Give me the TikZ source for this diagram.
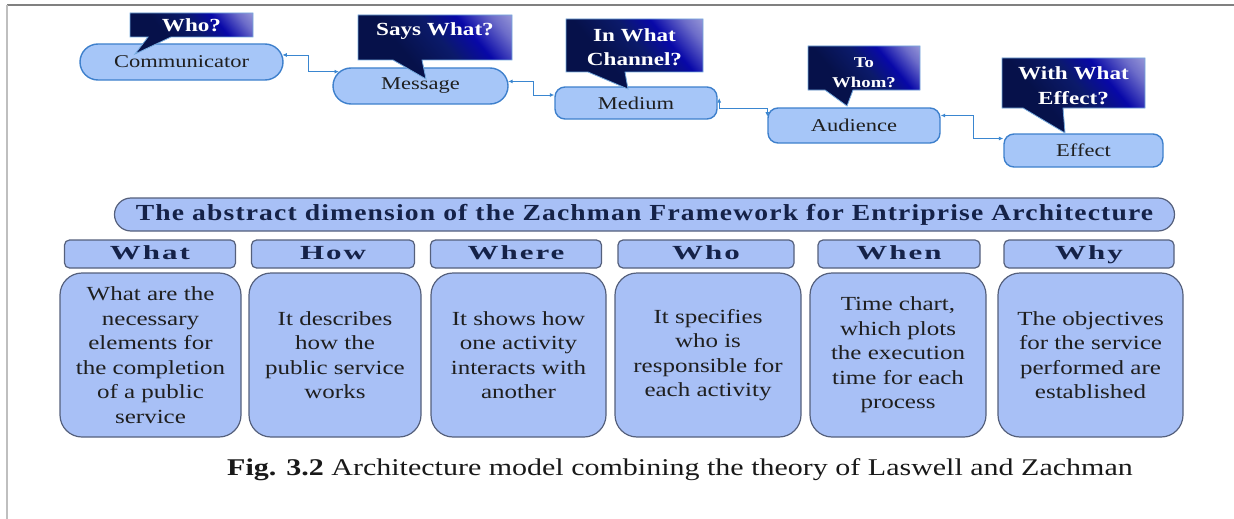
\documentclass[tikz,border=0pt]{standalone}
\usepackage{fontspec}
\setmainfont{Liberation Serif}[FakeStretch=1.25]
\newfontfamily\titlefont{Liberation Serif}[FakeStretch=1.2,LetterSpace=5]
\newfontfamily\hdrfont{Liberation Serif}[FakeStretch=1.55,LetterSpace=10]
\usetikzlibrary{arrows.meta,shapes.misc,shadings}

\definecolor{pillfill}{HTML}{A6C6F8}
\definecolor{pillline}{HTML}{3E80CC}
\definecolor{boxfill}{HTML}{A8C0F6}
\definecolor{boxline}{HTML}{55607C}
\definecolor{hdrtext}{HTML}{152248}
\definecolor{navydark}{HTML}{06114A}
\definecolor{navy}{HTML}{0B1A6A}
\definecolor{royal}{HTML}{0808A8}
\definecolor{haze}{HTML}{E8E8F2}
\definecolor{linkblue}{HTML}{3A86D0}

% diagonal fill of the question bubbles: navy, deep blue, pale corner
\pgfdeclarehorizontalshading{bubbleshade}{100bp}{%
  color(0bp)=(navydark); color(38bp)=(navydark); color(54bp)=(navy);
  color(66bp)=(royal); color(78bp)=(royal!55!haze); color(100bp)=(haze)}

\tikzset{
  stage/.style={draw=pillline, line width=1.4pt, fill=pillfill, text=black!88,
    font=\fontsize{18}{20}\selectfont, inner sep=0pt},
  pill/.style={stage, rounded rectangle},
  tab/.style={stage, rectangle, rounded corners=10pt},
  bubble/.style={draw=linkblue!70, line width=0.8pt, shading=bubbleshade,
    shading angle=40},
  asktext/.style={text=white, font=\bfseries\fontsize{18.5}{24}\selectfont,
    align=center, inner sep=0pt},
  link/.style={draw=linkblue, line width=0.9pt,
    {Latex[length=4.5pt,width=4pt]}-{Latex[length=4.5pt,width=4pt]}},
  frame/.style={draw=boxline, line width=1.2pt, fill=boxfill},
  banner/.style={frame, rounded rectangle, minimum width=1060pt, minimum height=33pt,
    inner sep=0pt, text=hdrtext, font=\titlefont\bfseries\fontsize{23}{26}\selectfont},
  colhead/.style={frame, rounded corners=5pt, minimum height=28pt, inner sep=0pt,
    text=hdrtext, font=\hdrfont\bfseries\fontsize{20}{22}\selectfont,
    text height=14pt, text depth=3pt},
  colbody/.style={frame, rounded corners=22pt, minimum height=164pt, align=center,
    text=black!88, font=\fontsize{20}{24.5}\selectfont},
}

\begin{document}
\begin{tikzpicture}[x=1pt, y=-1pt]
\useasboundingbox (0,0) rectangle (1234,519);

% page edge lines
\draw[black!50, line width=2pt] (7,5) -- (1234,5);
\draw[black!25, line width=2pt] (7,5) -- (7,519);

% Laswell chain
\node[pill, minimum width=203pt, minimum height=36pt] (comm) at (181.5,62) {Communicator};
\node[pill, minimum width=175pt, minimum height=36pt] (msg) at (420.5,86) {Message};
\node[tab, minimum width=162pt, minimum height=32pt] (med) at (636,103) {Medium};
\node[tab, minimum width=172pt, minimum height=35pt] (aud) at (854,125.5) {Audience};
\node[tab, minimum width=159pt, minimum height=33pt] (eff) at (1083.5,150.5) {Effect};

\draw[link] (comm.4) -- ++(26,0) |- (msg.170);
\draw[link] (msg.3) -- ++(25,0) |- ([yshift=8pt]med.west);
\draw[link] ([xshift=1.5pt,yshift=5pt]med.east) -- ([xshift=1.5pt,yshift=-5pt]med.east)
  -| ([yshift=9pt]aud.west);
\draw[link] ([yshift=10pt]aud.east) -- ++(33,0) |- ([yshift=12pt]eff.west);

% question bubbles
\shade[bubble] (130,13) -- (253,13) -- (253,37) -- (171,37) -- (135,54) -- (148,37)
  -- (130,37) -- cycle;
\node[asktext] (who) at (191.5,25) {Who?};

\shade[bubble] (358,15) -- (512,15) -- (512,60) -- (422,60) -- (426,79) -- (393,60)
  -- (358,60) -- cycle;
\node[asktext] (says) at (435,31) {Says What?};

\shade[bubble] (566,19) -- (703,19) -- (703,72) -- (625,72) -- (628,89) -- (588,72)
  -- (566,72) -- cycle;
\node[asktext] (chan) at (634.5,47) {In What\\Channel?};

\shade[bubble] (808,46) -- (920,46) -- (920,90) -- (853,90) -- (847,106) -- (825,90)
  -- (808,90) -- cycle;
\node[asktext, font=\bfseries\fontsize{15}{20}\selectfont] (whom) at (864,73) {To\\Whom?};

\shade[bubble] (1002,58) -- (1145,58) -- (1145,108) -- (1063,108) -- (1065,133)
  -- (1023,108) -- (1002,108) -- cycle;
\node[asktext, font=\bfseries\fontsize{18.5}{25}\selectfont] (effq) at (1073.5,86) {With What\\Effect?};

% Zachman dimensions
\node[banner] (title) at (644.5,214.5)
  {The abstract dimension of the Zachman Framework for Entriprise Architecture};

\node[colhead, minimum width=171pt] (hwhat)  at (150,254)  {What};
\node[colhead, minimum width=163pt] (hhow)   at (333,254)  {How};
\node[colhead, minimum width=171pt] (hwhere) at (516,254)  {Where};
\node[colhead, minimum width=176pt] (hwho)   at (706,254)  {Who};
\node[colhead, minimum width=162pt] (hwhen)  at (899,254)  {When};
\node[colhead, minimum width=170pt] (hwhy)   at (1089,254) {Why};

\node[colbody, minimum width=181pt] (bwhat)  at (150.5,355)
  {What are the\\necessary\\elements for\\the completion\\of a public\\service};
\node[colbody, minimum width=172pt] (bhow)   at (335,355)
  {It describes\\how the\\public service\\works};
\node[colbody, minimum width=175pt] (bwhere) at (518.5,355)
  {It shows how\\one activity\\interacts with\\another};
\node[colbody, minimum width=186pt] (bwho)   at (708,355)
  {It specifies\\who is\\responsible for\\each activity};
\node[colbody, minimum width=176pt] (bwhen)  at (898,355)
  {Time chart,\\which plots\\the execution\\time for each\\process};
\node[colbody, minimum width=185pt] (bwhy)   at (1090.5,355)
  {The objectives\\for the service\\performed are\\established};

% caption
\node[font=\fontsize{24}{28}\selectfont, text=black!90] (caption) at (680,470)
  {\textbf{Fig. 3.2} Architecture model combining the theory of Laswell and Zachman};
\end{tikzpicture}
\end{document}
